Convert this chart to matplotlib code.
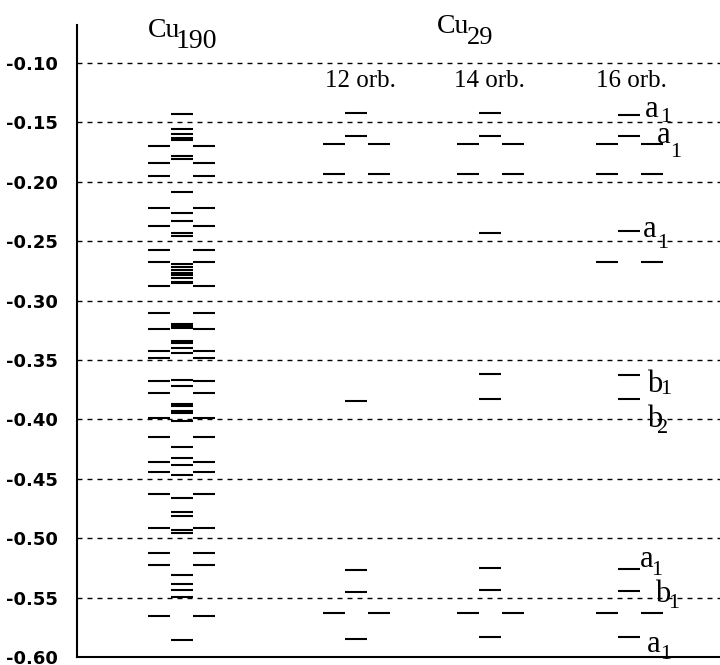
import matplotlib
matplotlib.use("Agg")
import matplotlib.pyplot as plt

# ---------------- data (energies) ----------------
cu190_a = [-0.1429, -0.1556, -0.1598, -0.1631, -0.1652, -0.1779, -0.1812, -0.2083,
           -0.2263, -0.2327, -0.2434, -0.2454, -0.2692, -0.2715, -0.2742, -0.2768,
           -0.2785, -0.2812, -0.2841, -0.2854, -0.3197, -0.3218, -0.3233, -0.3344,
           -0.3357, -0.3399, -0.3445, -0.3668, -0.3719, -0.3870, -0.3891, -0.3929,
           -0.3950, -0.4013, -0.4232, -0.4327, -0.4384, -0.4464, -0.4664, -0.4777,
           -0.4809, -0.4935, -0.4959, -0.5310, -0.5386, -0.5436, -0.5491, -0.5853]
cu190_e = [-0.1699, -0.1839, -0.1951, -0.2221, -0.2372, -0.2574, -0.2675, -0.2877,
           -0.3102, -0.3243, -0.3422, -0.3483, -0.3677, -0.3780, -0.3988, -0.4146,
           -0.4359, -0.4439, -0.4632, -0.4917, -0.5127, -0.5226, -0.5655]

orb12_a = [-0.1421, -0.1614, -0.3845, -0.5268, -0.5453, -0.5848]
orb12_e = [-0.1682, -0.1934, -0.5630]
orb14_a = [-0.1421, -0.1614, -0.2431, -0.3618, -0.3828, -0.5251, -0.5436, -0.5832]
orb14_e = [-0.1682, -0.1934, -0.5630]
orb16_a = [-0.1438, -0.1614, -0.2414, -0.3626, -0.3828, -0.5260, -0.5445, -0.5832]
orb16_e = [-0.1682, -0.1934, -0.2675, -0.5630]

column_names = ["12 orb.", "14 orb.", "16 orb."]

sym_letters = ["a", "a", "a", "b", "b", "a", "b", "a"]
sym_subs = ["1", "1", "1", "1", "2", "1", "1", "1"]
sym_levels = [-0.1438, -0.1614, -0.2414, -0.3626, -0.3828, -0.5260, -0.5445, -0.5832]

ytick_values = [-0.10, -0.15, -0.20, -0.25, -0.30, -0.35, -0.40, -0.45, -0.50, -0.55, -0.60]
ytick_labels = ["-0.10", "-0.15", "-0.20", "-0.25", "-0.30", "-0.35", "-0.40",
                "-0.45", "-0.50", "-0.55", "-0.60"]

# ---------------- layout ----------------
W, H = 720, 665
fig = plt.figure(figsize=(W / 100, H / 100), dpi=100)
ax_left, ax_right, ax_top, ax_bot = 77, 720, 25, 657
ax = fig.add_axes([ax_left / W, (H - ax_bot) / H, (ax_right - ax_left) / W,
                   (ax_bot - ax_top) / H])
ax.set_xlim(ax_left, ax_right)
ax.set_ylim(-0.60, -0.10 + (63 - ax_top) / 1188)

serif = ["Liberation Serif", "DejaVu Serif"]

# grid
for v in ytick_values:
    ax.axhline(v, color="black", lw=1.0, linestyle=(0, (3.6, 3.6)), zorder=1)

col_x = [181.5, 356, 490, 629]
half = 11
off = 22.5
lw_lev = 1.5


def draw_column(cx, a_levels, e_levels):
    ax.hlines(a_levels, cx - half, cx + half, color="black", lw=lw_lev, zorder=3)
    ax.hlines(e_levels, cx - off - half, cx - off + half, color="black", lw=lw_lev, zorder=3)
    ax.hlines(e_levels, cx + off - half, cx + off + half, color="black", lw=lw_lev, zorder=3)


draw_column(col_x[0], cu190_a, cu190_e)
draw_column(col_x[1], orb12_a, orb12_e)
draw_column(col_x[2], orb14_a, orb14_e)
draw_column(col_x[3], orb16_a, orb16_e)

# axes styling
for s in ["top", "right"]:
    ax.spines[s].set_visible(False)
for s in ["left", "bottom"]:
    ax.spines[s].set_linewidth(1.5)
    ax.spines[s].set_zorder(4)
ax.set_xticks([])
ax.set_yticks(ytick_values)
ax.set_yticklabels(ytick_labels, fontfamily="DejaVu Sans", fontweight="bold", fontsize=13)
ax.tick_params(axis="y", length=0, pad=14)


def fig_px(x, y):
    return x / W, 1 - y / H


# headers
fig.text(*fig_px(148, 37), "Cu", family=serif, fontsize=20, va="baseline")
fig.text(*fig_px(176, 48), "190", family=serif, fontsize=20, va="baseline")
fig.text(*fig_px(437, 33), "Cu", family=serif, fontsize=20, va="baseline")
fig.text(*fig_px(467, 44), "29", family=serif, fontsize=19, va="baseline")

header_x = [360, 489, 631]
for name, hx in zip(column_names, header_x):
    fig.text(*fig_px(hx, 87), name, family=serif, fontsize=18, ha="center", va="baseline")

# symmetry labels (letter x, letter baseline offset px, sub dx, sub dy)
lab_x = [645, 657, 643, 647, 647, 640, 655, 647]
lab_dy = [-2, -7, -6, -17, -28, 2, -11, -15]
sub_dx = [15, 13, 14, 13, 10, 11, 13, 13]
sub_dy = [-5, -14, -11, -2, -6, -8, -6, -7]
for L, S, lev, x, dy, sdx, sdy in zip(sym_letters, sym_subs, sym_levels,
                                       lab_x, lab_dy, sub_dx, sub_dy):
    ax.annotate(L, xy=(x, lev), xytext=(0, dy), textcoords="offset pixels",
                family=serif, fontsize=22, va="baseline", ha="left",
                annotation_clip=False, zorder=5)
    ax.annotate(S, xy=(x, lev), xytext=(sdx, dy + sdy), textcoords="offset pixels",
                family=serif, fontsize=16, va="baseline", ha="left",
                annotation_clip=False, zorder=5)

fig.savefig("out.png", dpi=100)
